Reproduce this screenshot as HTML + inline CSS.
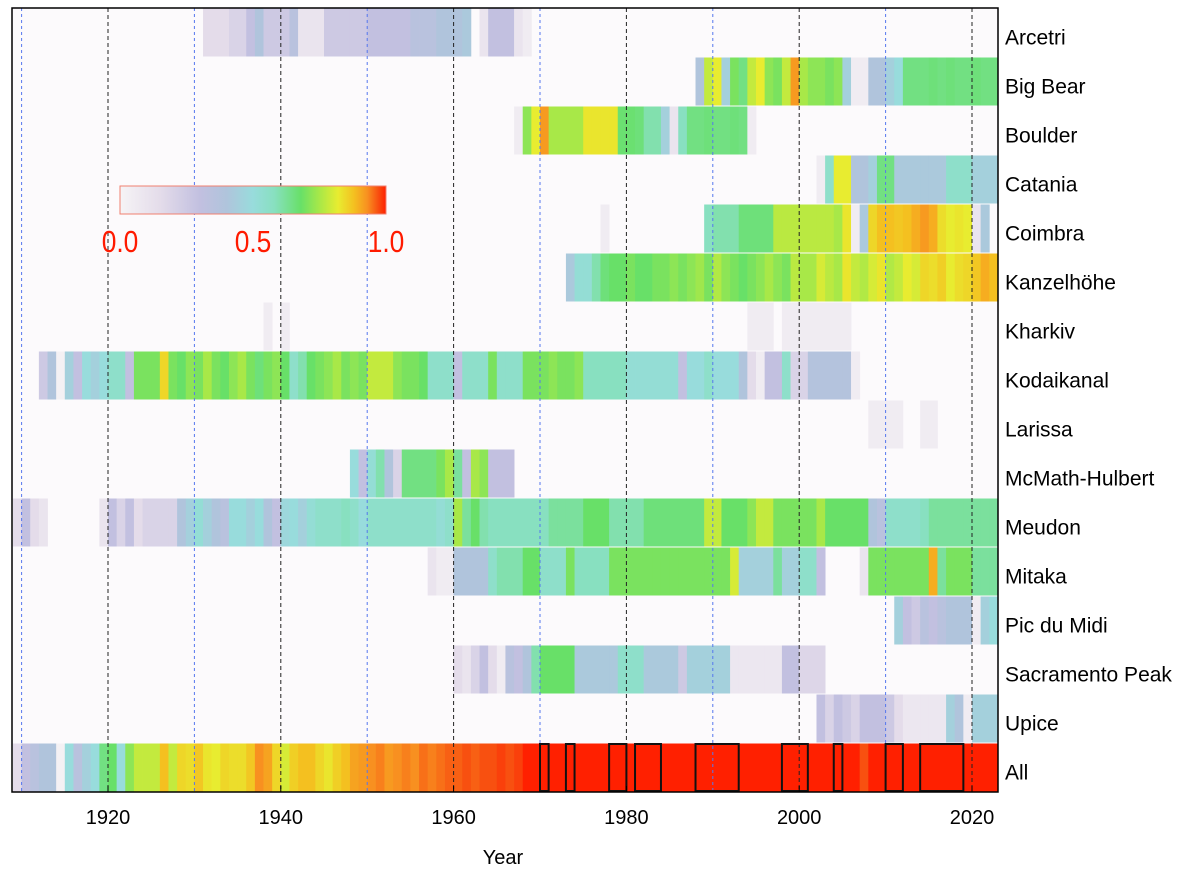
<!DOCTYPE html>
<html><head><meta charset="utf-8">
<style>
body{margin:0;background:#fff;width:1200px;height:875px;overflow:hidden;font-family:"Liberation Sans",sans-serif;}
svg{display:block}
</style></head>
<body>
<svg id="chart" width="1200" height="875"></svg>
<script>
const stations = ["Arcetri","Big Bear","Boulder","Catania","Coimbra","Kanzelhöhe","Kharkiv","Kodaikanal","Larissa","McMath-Hulbert","Meudon","Mitaka","Pic du Midi","Sacramento Peak","Upice","All"];
const startYears = [1931,1988,1967,2002,1977,1973,1938,1912,2008,1948,1909,1957,2011,1960,2002,1909];
const arcetri = [0.15,0.15,0.15,0.2,0.2,0.3,0.4,0.25,0.25,0.25,0.35,0.1,0.1,0.1,0.25,0.25,0.25,0.25,0.25,0.3,0.3,0.3,0.3,0.3,0.35,0.35,0.35,0.4,0.4,0.4,0.42,null,0.1,0.3,0.3,0.3,0.1,0.05];
const bigBear = [0.4,0.78,0.82,0.45,0.7,0.65,0.78,0.82,0.72,0.7,0.78,0.92,0.75,0.72,0.72,0.7,0.72,0.45,0.05,0.05,0.4,0.4,0.45,0.5,0.65,0.65,0.65,0.66,0.65,0.66,0.65,0.65,0.66,0.65,0.65];
const boulder = [0.05,0.72,0.82,0.92,0.75,0.75,0.75,0.75,0.83,0.83,0.83,0.83,0.67,0.67,0.66,0.6,0.6,0.45,0.1,0.58,0.65,0.65,0.66,0.65,0.65,0.66,0.65,0.05];
const catania = [0.05,0.55,0.82,0.82,0.4,0.4,0.45,0.65,0.65,0.42,0.42,0.42,0.42,0.42,0.42,0.55,0.55,0.55,0.45,0.45,0.45];
const coimbra = [0.05,null,null,null,null,null,null,null,null,null,null,null,0.58,0.6,0.6,0.6,0.66,0.66,0.66,0.66,0.77,0.77,0.77,0.77,0.77,0.77,0.77,0.75,0.83,0.05,0.42,0.85,0.88,0.88,0.87,0.88,0.9,0.92,0.9,0.84,0.82,0.83,0.82,0.1,0.42];
const kanzelhohe = [0.42,0.52,0.52,0.6,0.66,0.68,0.68,0.7,0.68,0.68,0.7,0.7,0.72,0.7,0.72,0.74,0.7,0.76,0.72,0.7,0.68,0.7,0.72,0.75,0.72,0.7,0.77,0.75,0.75,0.8,0.77,0.75,0.83,0.78,0.76,0.8,0.83,0.76,0.78,0.82,0.8,0.85,0.84,0.86,0.82,0.84,0.85,0.87,0.9,0.88];
const kharkiv = [0.05,null,0.05,null,null,null,null,null,null,null,null,null,null,null,null,null,null,null,null,null,null,null,null,null,null,null,null,null,null,null,null,null,null,null,null,null,null,null,null,null,null,null,null,null,null,null,null,null,null,null,null,null,null,null,null,null,0.05,0.05,0.05,null,0.05,0.05,0.05,0.05,0.05,0.05,0.05,0.05];
const kodaikanal = [0.25,0.4,0.02,0.45,0.3,0.5,0.45,0.5,0.55,0.55,0.3,0.7,0.7,0.7,0.85,0.7,0.68,0.72,0.7,0.75,0.7,0.68,0.72,0.75,0.7,0.66,0.7,0.72,0.68,0.55,0.6,0.68,0.7,0.72,0.75,0.7,0.72,0.7,0.78,0.78,0.78,0.72,0.7,0.7,0.68,0.55,0.55,0.55,0.3,0.55,0.55,0.55,0.7,0.55,0.55,0.55,0.7,0.7,0.7,0.72,0.7,0.7,0.72,0.58,0.58,0.58,0.58,0.58,0.52,0.52,0.52,0.52,0.52,0.52,0.3,0.5,0.5,0.55,0.5,0.5,0.5,0.4,0.15,0.05,0.3,0.3,0.55,0.2,0.2,0.38,0.38,0.38,0.38,0.38,0.05];
const larissa = [0.05,0.05,0.05,0.05,null,null,0.05,0.05];
const mcmath = [0.5,0.3,0.52,0.6,0.4,0.2,0.65,0.65,0.65,0.65,0.7,0.75,0.62,0.3,0.75,0.72,0.3,0.3,0.3];
const meudon = [0.15,0.3,0.15,0.1,null,null,null,null,null,null,0.1,0.3,0.2,0.3,0.15,0.2,0.2,0.2,0.2,0.4,0.45,0.52,0.45,0.4,0.35,0.5,0.5,0.45,0.5,0.4,0.3,0.48,0.5,0.45,0.52,0.55,0.55,0.55,0.58,0.55,0.5,0.55,0.55,0.55,0.55,0.55,0.55,0.55,0.55,0.52,0.55,0.75,0.62,0.68,0.6,0.58,0.58,0.58,0.58,0.58,0.58,0.58,0.62,0.62,0.62,0.62,0.68,0.68,0.68,0.6,0.6,0.6,0.6,0.66,0.66,0.66,0.66,0.66,0.66,0.66,0.78,0.78,0.68,0.68,0.68,0.72,0.78,0.78,0.7,0.7,0.7,0.7,0.7,0.75,0.68,0.68,0.68,0.68,0.68,0.4,0.35,0.55,0.55,0.55,0.55,0.58,0.62,0.62,0.62,0.62,0.62,0.62,0.62,0.62];
const mitaka = [0.1,0.05,0.05,0.4,0.4,0.4,0.4,0.55,0.6,0.6,0.6,0.68,0.68,0.55,0.55,0.55,0.7,0.58,0.58,0.58,0.58,0.7,0.7,0.7,0.7,0.7,0.7,0.7,0.7,0.7,0.7,0.7,0.7,0.7,0.7,0.8,0.45,0.45,0.45,0.45,0.62,0.45,0.45,0.55,0.55,0.3,null,null,null,null,0.1,0.7,0.7,0.7,0.7,0.7,0.7,0.7,0.9,0.62,0.7,0.7,0.7,0.62,0.62,0.62];
const picDuMidi = [0.45,0.3,0.25,0.35,0.3,0.35,0.4,0.4,0.4,0.05,0.45,0.5];
const sacPeak = [0.15,0.1,0.2,0.3,0.15,0.05,0.35,0.3,0.4,0.6,0.68,0.68,0.68,0.68,0.42,0.42,0.42,0.42,0.42,0.55,0.55,0.55,0.42,0.42,0.42,0.42,0.25,0.45,0.45,0.45,0.45,0.45,0.08,0.08,0.08,0.08,0.08,0.08,0.3,0.3,0.18,0.18,0.18];
const upice = [0.3,0.2,0.3,0.25,0.2,0.3,0.3,0.3,0.25,0.15,0.08,0.08,0.08,0.08,0.08,0.45,0.4,0.05,0.45,0.45,0.45];
const allSites = [0.15,0.3,0.35,0.4,0.4,0.02,0.5,0.35,0.45,0.5,0.65,0.68,0.5,0.72,0.78,0.78,0.78,0.88,0.78,0.85,0.84,0.87,0.83,0.82,0.85,0.84,0.84,0.87,0.93,0.91,0.85,0.8,0.86,0.88,0.88,0.85,0.83,0.86,0.88,0.91,0.92,0.93,0.94,0.92,0.93,0.94,0.93,0.95,0.94,0.95,0.96,0.96,0.97,0.96,0.97,0.97,0.98,0.97,0.98,1,1,1,1,1,1,1,1,1,1,1,1,1,1,1,1,1,1,1,1,1,1,1,1,1,1,1,1,1,1,1,1,1,1,1,1,1,1,1,0.97,1,1,1,1,1,1,1,1,1,1,1,1,1,1,1,1];
const rowValues = [arcetri,bigBear,boulder,catania,coimbra,kanzelhohe,kharkiv,kodaikanal,larissa,mcmath,meudon,mitaka,picDuMidi,sacPeak,upice,allSites];
const boxStarts = [1970,1973,1978,1981,1988,1998,2004,2010,2014];
const boxLengths = [1,1,2,3,5,3,1,2,5];
const xTicks = [1920,1940,1960,1980,2000,2020];
const blackGrid = [1920,1940,1960,1980,2000,2020];
const blueGrid = [1910,1930,1950,1970,1990,2010];
const cbarTicks = [0.0,0.5,1.0];

const NS="http://www.w3.org/2000/svg";
const svg=document.getElementById('chart');
const L=12,R=998,T=8,B=792;
const rowH=(B-T)/stations.length;
function xs(yr){return 108+(yr-1920)*8.64;}
function ys(i){return T+i*rowH;}
const stops=[[0,'#f6f4f6'],[0.15,'#e4dcea'],[0.3,'#c2c0e0'],[0.4,'#b0c4dc'],[0.5,'#98dcdc'],[0.58,'#88e0c0'],[0.68,'#68e068'],[0.75,'#a8e848'],[0.82,'#e8ec30'],[0.88,'#f4c020'],[0.93,'#f89020'],[0.97,'#f85010'],[1,'#ff2000']];
function hex(h){return [1,3,5].map(k=>parseInt(h.substr(k,2),16));}
function cmap(v){v=Math.max(0,Math.min(1,v));for(let k=1;k<stops.length;k++){if(v<=stops[k][0]){const a=stops[k-1],b=stops[k];const t=(v-a[0])/(b[0]-a[0]);const ca=hex(a[1]),cb=hex(b[1]);return 'rgb('+ca.map((c,j)=>Math.round(c+(cb[j]-c)*t)).join(',')+')';}}return stops[stops.length-1][1];}
function mk(tag,attrs,parent){const e=document.createElementNS(NS,tag);for(const k in attrs)e.setAttribute(k,attrs[k]);(parent||svg).appendChild(e);return e;}

const bg=mk('rect',{x:L,y:T,width:R-L,height:B-T,fill:'#fcfafc'});



rowValues.forEach((arr,i)=>{
  const g=mk('g',{});
  
  
  arr.forEach((v,j)=>{
    if(v===null)return;
    const yr=startYears[i]+j;
    const x0=Math.max(L,xs(yr)),x1=Math.min(R,xs(yr+1));
    const r=mk('rect',{x:x0,y:ys(i)+0.5,width:x1-x0+0.4,height:rowH-1,fill:cmap(v)},g);
    
    
  });
});

blackGrid.forEach(yr=>{const l=mk('line',{x1:xs(yr),x2:xs(yr),y1:T,y2:B,stroke:'#222','stroke-width':1,'stroke-dasharray':'4,3'});

});
blueGrid.forEach(yr=>{const l=mk('line',{x1:xs(yr),x2:xs(yr),y1:T,y2:B,stroke:'#5577ee','stroke-width':1,'stroke-dasharray':'3,3'});

});

const ai=stations.length-1;
boxStarts.forEach((yr,k)=>{const b=mk('rect',{x:xs(yr),y:ys(ai)+1,width:boxLengths[k]*8.64,height:rowH-2,fill:'none',stroke:'#111','stroke-width':2});

});

const fr=mk('rect',{x:L,y:T,width:R-L,height:B-T,fill:'none',stroke:'#000','stroke-width':1.5});



stations.forEach((s,i)=>{const t=mk('text',{x:1005,y:ys(i)+rowH/2+12,'font-size':21,fill:'#000'});t.textContent=s;

});

xTicks.forEach(yr=>{const t=mk('text',{x:xs(yr),y:824,'font-size':20,'text-anchor':'middle',fill:'#000'});t.textContent=yr;


const tk=mk('line',{x1:xs(yr),x2:xs(yr),y1:B,y2:B-6,stroke:'#000'});

});
const xt=mk('text',{x:503,y:864,'font-size':20,'text-anchor':'middle',fill:'#000'});xt.textContent='Year';



const defs=mk('defs',{});
const grad=mk('linearGradient',{id:'cb',x1:0,x2:1,y1:0,y2:0},defs);
stops.forEach(s=>mk('stop',{offset:s[0],'stop-color':s[1]},grad));
const cb=mk('rect',{x:120,y:186,width:266,height:28,fill:'url(#cb)',stroke:'#f08070','stroke-width':1});


cbarTicks.forEach(v=>{const cx=120+v*266;const t=mk('text',{x:0,y:0,'font-size':31,'text-anchor':'middle',fill:'#ff1a00',transform:'translate('+cx+',252) scale(0.85,1)'});t.textContent=v.toFixed(1);

});
</script>
</body></html>
